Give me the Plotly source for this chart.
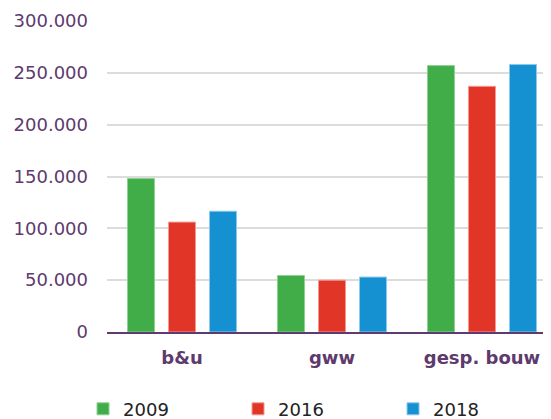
import plotly.graph_objects as go

# sectors and yearly values
categories = ["b&u", "gww", "gesp. bouw"]
years = ["2009", "2016", "2018"]
values_2009 = [148000, 54500, 257000]
values_2016 = [106000, 50000, 237000]
values_2018 = [116500, 53000, 258000]
tick_vals = [0, 50000, 100000, 150000, 200000, 250000, 300000]

colors = {"2009": "#41ad49", "2016": "#e13527", "2018": "#1591d1"}
edges = {"2009": "#8fd093", "2016": "#f09a92", "2018": "#8cc9ea"}
purple = "#5e3a6e"

fig = go.Figure()
for year, vals in zip(years, [values_2009, values_2016, values_2018]):
    fig.add_trace(go.Bar(
        x=categories, y=vals, name=year,
        marker=dict(color=colors[year], line=dict(color=edges[year], width=1)),
    ))

# the page body has an 8px margin, so the figure is sized down to fit the window
fig.update_layout(
    width=543, height=411,
    template="plotly_white",
    barmode="group",
    bargap=0.18,
    bargroupgap=0.34,
    separators=",.",
    font=dict(family="DejaVu Sans, Verdana, sans-serif", color=purple),
    margin=dict(l=99, r=0, t=13, b=87, autoexpand=False),
    plot_bgcolor="white",
    paper_bgcolor="white",
    showlegend=True,
    legend=dict(
        orientation="h",
        x=-0.054, xanchor="left",
        y=-0.248, yanchor="middle",
        font=dict(size=18, color="#222222"),
        entrywidth=110, entrywidthmode="pixels",
        itemwidth=30,
        traceorder="normal",
    ),
)

fig.update_xaxes(
    range=[-0.5, 2.46],
    automargin=False,
    showline=True, linecolor=purple, linewidth=2,
    showgrid=False, ticks="",
    tickfont=dict(size=18, color=purple, family="DejaVu Sans, Verdana, sans-serif"),
    ticklabelstandoff=8,
)
fig.update_xaxes(tickfont_weight="bold")

fig.update_yaxes(
    range=[0, 300000],
    automargin=False,
    tickvals=tick_vals,
    tickformat=",d",
    showgrid=True, gridcolor="#dcdcdc", gridwidth=1.5,
    zeroline=False, showline=False, ticks="",
    tickfont=dict(size=18, color=purple),
    ticklabelstandoff=18,
)

fig.write_html("out.html")
